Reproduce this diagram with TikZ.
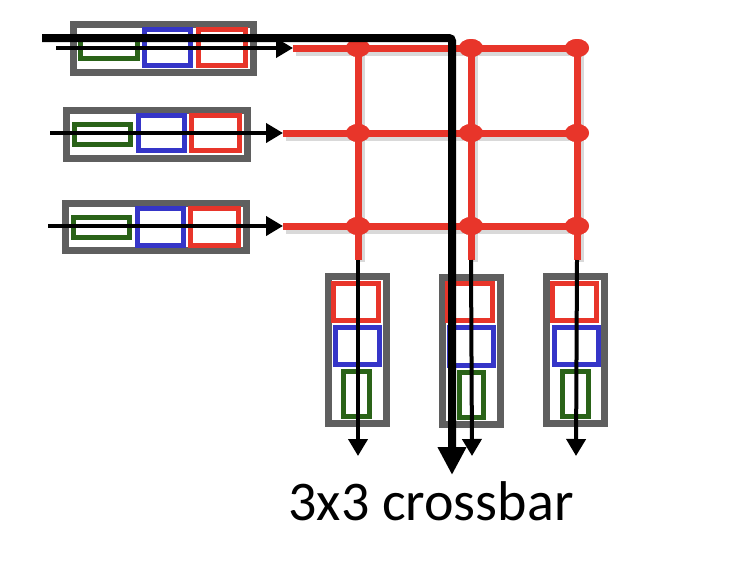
\documentclass[tikz,border=0pt]{standalone}
\usepackage{fontspec}
\setmainfont{Carlito}
\usetikzlibrary{arrows.meta,shapes.geometric,shadows}
\definecolor{xred}{HTML}{E8352A}
\definecolor{xblue}{HTML}{3535C8}
\definecolor{xgreen}{HTML}{2A6318}
\definecolor{xgray}{HTML}{5F5F5F}
\tikzset{
  gbox/.style={draw=xgray,line width=7pt,fill=white,inner sep=0pt,
    drop shadow={shadow xshift=3pt,shadow yshift=-3pt,opacity=.3,fill=black}},
  rbox/.style={draw=xred,line width=5pt,inner sep=0pt},
  bbox/.style={draw=xblue,line width=5pt,inner sep=0pt},
  grbox/.style={draw=xgreen,line width=5pt,inner sep=0pt},
  wire/.style={draw=xred,line width=7pt},
  wireshadow/.style={draw=black,opacity=.15,line width=8pt},
  xpt/.style={ellipse,fill=xred,inner sep=0pt,minimum width=24pt,minimum height=18pt},
  thinarrow/.style={draw=black,line width=4pt,-{Triangle[length=17pt,width=19pt]}},
  thickarrow/.style={draw=black,line width=8pt,rounded corners=3pt,-{Triangle[length=28pt,width=27pt]}},
  lbl/.style={font=\fontsize{56}{64}\selectfont,inner sep=0pt,anchor=base}
}
\begin{document}
\begin{tikzpicture}[x=1pt,y=-1pt]
\useasboundingbox (0,0) rectangle (754,562);
% coordinates
\coordinate (t1) at (293,48);
\coordinate (t2) at (283,133);
\coordinate (t3) at (283,226);
\coordinate (b1) at (358,260);
\coordinate (b2) at (471,260);
\coordinate (b3) at (577,260);
\coordinate (e1) at (358,456);
\coordinate (e2) at (472,456);
\coordinate (e3) at (576,456);
% red grid shadows
\foreach \r/\t in {1/t1,2/t2,3/t3}{
  \draw[wireshadow] ([shift={(3,4)}]\t) -- ++(289,0);
}
\foreach \c/\x in {1/358,2/471,3/577}{
  \draw[wireshadow] (\x+3,52) -- (\x+3,262);
}
% crosspoints
\foreach \i/\y in {1/48,2/133,3/226}{
  \foreach \j/\x in {1/358,2/471,3/577}{
    \node[xpt] (x\i\j) at (\x,\y) {};
  }
}
% red wires
\draw[wire] (t1) -- (x13.center);
\draw[wire] (t2) -- (x23.center);
\draw[wire] (t3) -- (x33.center);
\draw[wire] (x11.center) -- (b1);
\draw[wire] (x12.center) -- (b2);
\draw[wire] (x13.center) -- (b3);
\foreach \i in {1,2,3}{\foreach \j in {1,2,3}{\fill[xred] (x\i\j) ellipse (12pt and 9pt);}}
% input buffers
\node[gbox,minimum width=180pt,minimum height=48pt] (in1) at (163.5,48.5) {};
\node[grbox,minimum width=57pt,minimum height=20pt] (in1g) at (109,48.5) {};
\node[bbox,minimum width=46pt,minimum height=36pt] (in1b) at (167.5,47.5) {};
\node[rbox,minimum width=47pt,minimum height=36pt] (in1r) at (222,47.5) {};
\node[gbox,minimum width=181pt,minimum height=48pt] (in2) at (157,134.5) {};
\node[grbox,minimum width=56pt,minimum height=20pt] (in2g) at (102.5,134.5) {};
\node[bbox,minimum width=46pt,minimum height=35pt] (in2b) at (161.5,133) {};
\node[rbox,minimum width=48pt,minimum height=35pt] (in2r) at (215.5,133) {};
\node[gbox,minimum width=181pt,minimum height=47pt] (in3) at (156,227) {};
\node[grbox,minimum width=56pt,minimum height=20pt] (in3g) at (101.5,227.5) {};
\node[bbox,minimum width=46pt,minimum height=37pt] (in3b) at (160.5,227) {};
\node[rbox,minimum width=48pt,minimum height=37pt] (in3r) at (214.5,227) {};
% output buffers
\node[gbox,minimum width=58pt,minimum height=147pt] (out1) at (357.5,350) {};
\node[rbox,minimum width=45pt,minimum height=37pt] (out1r) at (356,302) {};
\node[bbox,minimum width=44pt,minimum height=37pt] (out1b) at (357.5,346) {};
\node[grbox,minimum width=26pt,minimum height=45pt] (out1g) at (356.5,394) {};
\node[gbox,minimum width=58pt,minimum height=147pt] (out2) at (471.5,351) {};
\node[rbox,minimum width=45pt,minimum height=37pt] (out2r) at (470,302) {};
\node[bbox,minimum width=44pt,minimum height=38pt] (out2b) at (471.5,346.5) {};
\node[grbox,minimum width=24pt,minimum height=45pt] (out2g) at (471.5,395) {};
\node[gbox,minimum width=58pt,minimum height=147pt] (out3) at (575.5,350) {};
\node[rbox,minimum width=44pt,minimum height=37pt] (out3r) at (574.5,302) {};
\node[bbox,minimum width=44pt,minimum height=37pt] (out3b) at (576.5,346) {};
\node[grbox,minimum width=26pt,minimum height=45pt] (out3g) at (575.5,394) {};
% input arrows
\coordinate (s1) at (56,48);
\coordinate (s2) at (50,133);
\coordinate (s3) at (48,226);
\draw[thinarrow] (s1) -- (t1);
\draw[thinarrow] (s2) -- (t2);
\draw[thinarrow] (s3) -- (t3);
% output arrows
\draw[thinarrow] (b1) -- (e1);
\draw[thinarrow] (b2) -- (e2);
\draw[thinarrow] (b3) -- (e3);
% thick path
\coordinate (p0) at (42,38);
\coordinate (p1) at (452,38);
\coordinate (p2) at (452,475);
\draw[thickarrow] (p0) -- (p1) -- (p2);
% label
\node[lbl] (title) at (431,520) {3x3 crossbar};
\end{tikzpicture}
\end{document}
